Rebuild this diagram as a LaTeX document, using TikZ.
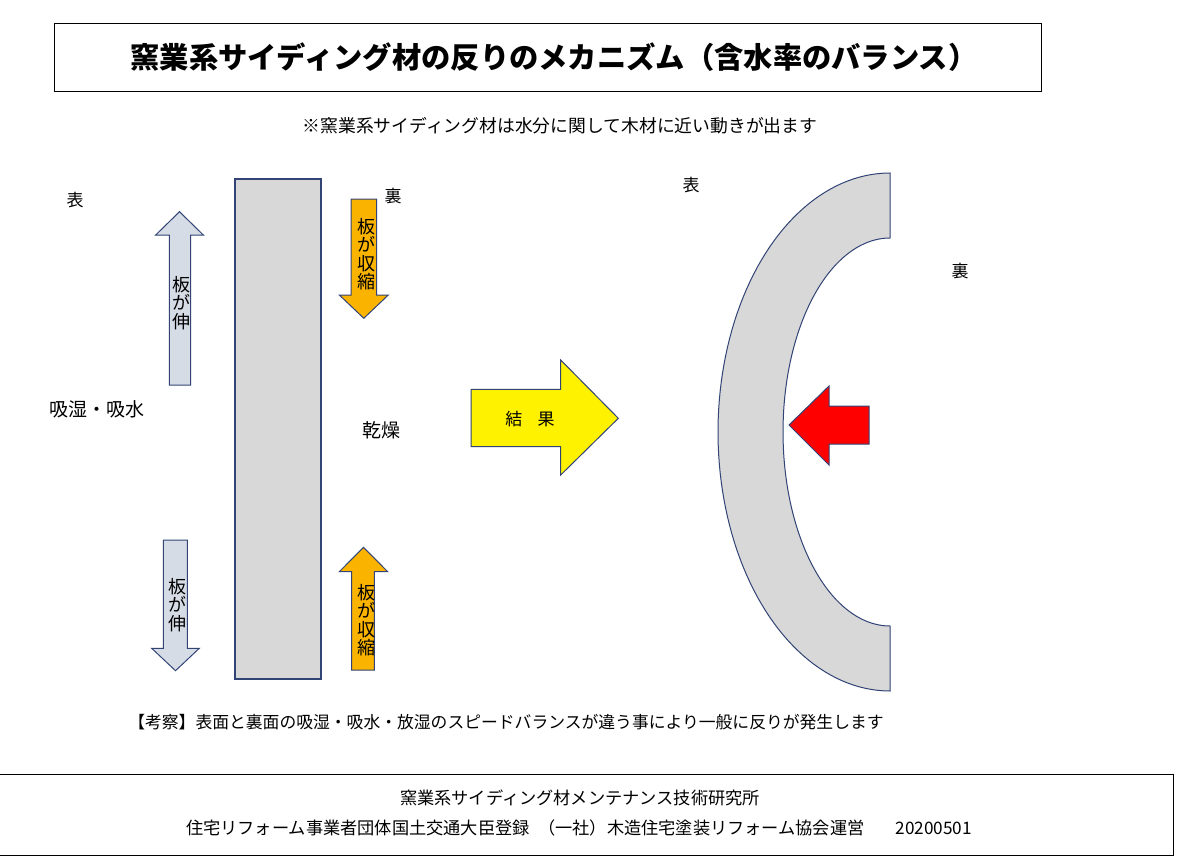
\documentclass[tikz,border=0pt]{standalone}
\usepackage{fontspec}
\setmainfont{Noto Sans CJK JP}
\definecolor{edge}{RGB}{50,68,118}
\definecolor{boardfill}{RGB}{216,216,216}
\definecolor{bluefill}{RGB}{214,220,229}
\definecolor{orangefill}{RGB}{250,180,0}
\tikzset{
  frame/.style={draw=black,line width=1pt},
  shapeline/.style={draw=edge,line width=1pt,line join=miter},
  lbl/.style={inner sep=0pt,font=\fontsize{17}{17}\selectfont},
  biglbl/.style={inner sep=0pt,font=\fontsize{19}{19}\selectfont},
  vtext/.style={inner sep=0pt,align=center,font=\fontsize{18}{18.5}\selectfont}
}
\begin{document}
\begin{tikzpicture}[x=1pt,y=-1pt]
\useasboundingbox[fill=white] (0,0) rectangle (1188,864);
% title
\node[frame,minimum width=987pt,minimum height=68pt,inner sep=0pt] (titlebox) at (547.5,58) {};
\node[inner sep=0pt,font=\bfseries\fontsize{29.3}{29.3}\selectfont] (title) at (554,57) {窯業系サイディング材の反りのメカニズム（含水率のバランス）};
\node[inner sep=0pt,font=\fontsize{17.8}{17.8}\selectfont] (sub) at (560,126) {※窯業系サイディング材は水分に関して木材に近い動きが出ます};
% labels
\node[lbl] (omote1) at (75,200) {表};
\node[lbl] (ura1) at (393,196) {裏};
\node[lbl] (omote2) at (691,185) {表};
\node[lbl] (ura2) at (960,271) {裏};
\node[biglbl] (kyu) at (97,409) {吸湿・吸水};
\node[biglbl] (kan) at (381,430) {乾燥};
% board
\path[shapeline,fill=boardfill,line width=1.6pt] (235,179) rectangle (321,679);
\coordinate (board) at (278,429);
% light blue arrows
\path[shapeline,fill=bluefill] (169.3,385) -- (169.3,235) -- (155.7,235) -- (179.5,211.7) -- (203.3,235) -- (190.7,235) -- (190.7,385) -- cycle;
\node[vtext] (nobi1) at (181,303) {板\\が\\伸};
\path[shapeline,fill=bluefill] (163.3,540) -- (187.3,540) -- (187.3,648.3) -- (199.3,648.3) -- (175.5,670.7) -- (151.7,648.3) -- (163.3,648.3) -- cycle;
\node[vtext] (nobi2) at (177,605) {板\\が\\伸};
% orange arrows
\path[shapeline,fill=orangefill] (351,199) -- (376.7,199) -- (376.7,295) -- (388.3,295) -- (363.8,318.3) -- (339.3,295) -- (351,295) -- cycle;
\node[vtext] (shu1) at (366,254) {板\\が\\収\\縮};
\path[shapeline,fill=orangefill] (351.7,670) -- (351.7,571.7) -- (339.3,571.7) -- (363.5,547.3) -- (387.7,571.7) -- (374.3,571.7) -- (374.3,670) -- cycle;
\node[vtext] (shu2) at (366,620) {板\\が\\収\\縮};
% yellow arrow
\path[shapeline,fill=yellow] (471,389.3) -- (560.7,389.3) -- (560.7,360) -- (618.3,418.3) -- (560.7,475) -- (560.7,446.7) -- (471,446.7) -- cycle;
\node[inner sep=0pt,font=\fontsize{17}{17}\selectfont] (kekka) at (530,419) {結\hspace{0.9em}果};
% curved board
\path[shapeline,fill=boardfill] plot[domain=90:270,samples=90] ({890+172*cos(\x)},{432-259*sin(\x)}) -- plot[domain=270:90,samples=90] ({890+107*cos(\x)},{432-194*sin(\x)}) -- cycle;
\coordinate (curve) at (750,432);
% red arrow
\path[shapeline,fill=red] (869,406) -- (869,444) -- (829,444) -- (829,465) -- (789,425) -- (829,386) -- (829,406) -- cycle;
% conclusion
\node[inner sep=0pt,font=\fontsize{16.8}{16.8}\selectfont] (kousatsu) at (506,722) {【考察】表面と裏面の吸湿・吸水・放湿のスピードバランスが違う事により一般に反りが発生します};
% footer
\draw[frame] (-5,774) -- (1173,774) -- (1173,855) -- (-5,855);
\node[inner sep=0pt,font=\fontsize{17.2}{17.2}\selectfont] (foot1) at (580,798) {窯業系サイディング材メンテナンス技術研究所};
\node[inner sep=0pt,font=\fontsize{17.2}{17.2}\selectfont] (foot2) at (579,828) {住宅リフォーム事業者団体国土交通大臣登録\hspace{0.5em}（一社）木造住宅塗装リフォーム協会運営\hspace{1.8em}20200501};
\end{tikzpicture}
\end{document}
